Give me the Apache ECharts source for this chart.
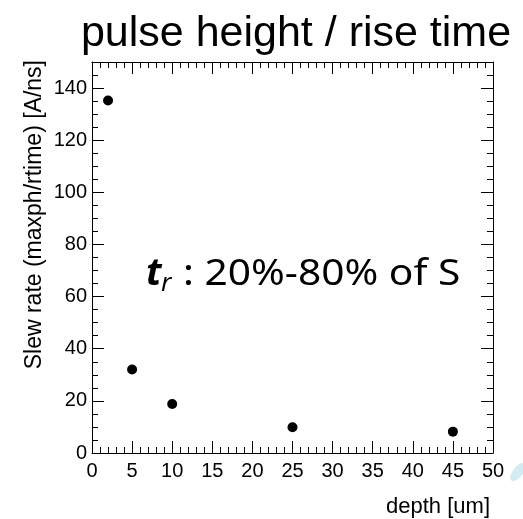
<!DOCTYPE html>
<html>
<head>
<meta charset="utf-8">
<script src="https://cdn.jsdelivr.net/npm/echarts@6/dist/echarts.min.js"></script>
<style>
  html, body { margin: 0; padding: 0; background: #ffffff; }
  #chart { width: 523px; height: 519px; }
</style>
</head>
<body>
<div id="chart"></div>
<script>
// ---- data ----
var depth = [2, 5, 10, 25, 45];
var slewRate = [135.2, 32.0, 18.8, 9.9, 8.2];
var titleText = 'pulse height / rise time';
var yTitle = 'Slew rate (maxph/rtime) [A/ns]';
var xTitle = 'depth [um]';
var noteMain = 't';
var noteSub = 'r';
var noteRest = ': 20%-80% of S';

var points = depth.map(function (d, i) { return [d, slewRate[i]]; });

var chart = echarts.init(document.getElementById('chart'), null, { renderer: 'canvas' });
var font = '"Liberation Sans", Arial, Helvetica, sans-serif';
var axisLineStyle = { color: '#000', width: 1 };

function makeX(pos, showLabels) {
  return {
    type: 'value', position: pos, min: 0, max: 50, interval: 5,
    axisLine: { show: true, onZero: false, lineStyle: axisLineStyle },
    axisTick: { show: true, inside: true, length: 12, lineStyle: axisLineStyle },
    minorTick: { show: true, splitNumber: 5, length: 6, lineStyle: axisLineStyle },
    splitLine: { show: false },
    axisLabel: { show: showLabels, color: '#000', fontSize: 20, fontFamily: font, margin: 8 }
  };
}
function makeY(pos, showLabels) {
  return {
    type: 'value', position: pos, min: 0, max: 150, interval: 20,
    axisLine: { show: true, onZero: false, lineStyle: axisLineStyle },
    axisTick: { show: true, inside: true, length: 12, lineStyle: axisLineStyle },
    minorTick: { show: true, splitNumber: 4, length: 6, lineStyle: axisLineStyle },
    splitLine: { show: false },
    axisLabel: {
      show: showLabels, color: '#000', fontSize: 20, fontFamily: font, margin: 5,
      showMaxLabel: false,
      formatter: function (v) { return v > 140 ? '' : String(v); }
    }
  };
}

chart.setOption({
  animation: false,
  backgroundColor: '#ffffff',
  grid: { left: 92, right: 30, top: 62, bottom: 66, containLabel: false },
  xAxis: [makeX('bottom', true), makeX('top', false)],
  yAxis: [makeY('left', true), makeY('right', false)],
  series: [{
    type: 'scatter',
    xAxisIndex: 0, yAxisIndex: 0,
    data: points,
    symbol: 'circle',
    symbolSize: 10,
    itemStyle: { color: '#000', opacity: 1 }
  }],
  graphic: [
    { type: 'text', x: 296, y: 34, style: { text: titleText, font: '43px ' + font, fill: '#000', align: 'center', verticalAlign: 'middle' } },
    { type: 'text', x: 35, y: 60, rotation: Math.PI / 2, style: { text: yTitle, font: '23px ' + font, fill: '#000', align: 'right', verticalAlign: 'middle' } },
    { type: 'text', x: 490, y: 507, style: { text: xTitle, font: '22px ' + font, fill: '#000', align: 'right', verticalAlign: 'middle' } },
    { type: 'text', x: 146, y: 274, style: { text: noteMain, font: 'italic bold 38px "Noto Sans", sans-serif', fill: '#000', align: 'left', verticalAlign: 'middle' } },
    { type: 'text', x: 161, y: 284, style: { text: noteSub, font: 'italic 26px "Noto Sans", sans-serif', fill: '#000', align: 'left', verticalAlign: 'middle' } },
    { type: 'text', x: 183, y: 275, scaleX: 1.13, style: { text: noteRest, font: '36px "Noto Sans", sans-serif', fill: '#000', align: 'left', verticalAlign: 'middle' } },
    { type: 'ellipse', x: 518, y: 472, rotation: 0.9, shape: { cx: 0, cy: 0, rx: 11, ry: 5 }, style: { fill: '#d3ecf3' } }
  ]
});
</script>
</body>
</html>
